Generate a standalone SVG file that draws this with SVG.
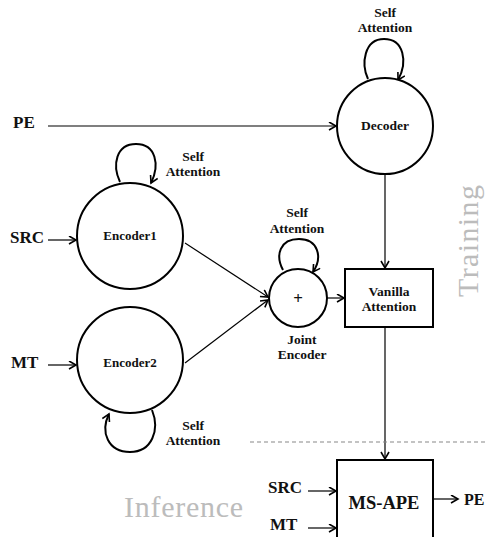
<svg xmlns="http://www.w3.org/2000/svg" width="485" height="537" viewBox="0 0 485 537">
<style>
.node{fill:#fff;stroke:#000;stroke-width:2}
.lbl{font-family:"Liberation Serif",serif;font-weight:bold;fill:#111}
.s13{font-size:13.5px}
.s12{font-size:13px}
.big{font-size:17px}
.edge{fill:none;stroke:#000;stroke-width:1.2}
.loop{fill:none;stroke:#000;stroke-width:2}
.phase{font-family:"Liberation Serif",serif;font-size:30px;fill:#bcbcbc}
</style>
<defs>
<marker id="arr" markerUnits="userSpaceOnUse" markerWidth="10" markerHeight="10" refX="8" refY="4.5" orient="auto">
<path d="M1,0.5 L8,4.5 L1,8.5" fill="none" stroke="#000" stroke-width="1.6"/>
</marker>
</defs>
<rect width="485" height="537" fill="#fff"/>

<g id="connectors">
<line class="edge" x1="48" y1="126" x2="336" y2="126" marker-end="url(#arr)"/>
<line class="edge" x1="48" y1="240" x2="76" y2="240" marker-end="url(#arr)"/>
<line class="edge" x1="48" y1="365" x2="76" y2="365" marker-end="url(#arr)"/>
<line class="edge" x1="185" y1="243" x2="268" y2="297" marker-end="url(#arr)"/>
<line class="edge" x1="185" y1="363" x2="268" y2="300" marker-end="url(#arr)"/>
<line class="edge" x1="327" y1="298" x2="344" y2="298" marker-end="url(#arr)"/>
<line class="edge" x1="385" y1="174" x2="385" y2="268" marker-end="url(#arr)"/>
<line class="edge" x1="385" y1="327" x2="385" y2="459" marker-end="url(#arr)"/>
<line class="edge" x1="308" y1="491" x2="336" y2="491" marker-end="url(#arr)"/>
<line class="edge" x1="308" y1="528" x2="336" y2="528" marker-end="url(#arr)"/>
<line class="edge" x1="433" y1="499" x2="458" y2="499" marker-end="url(#arr)"/>
<path class="loop" d="M368 79 C361 64 364 39 384 39 C404 39 408 62 398 80" marker-end="url(#arr)"/>
<path class="loop" d="M120 182 C112 165 116 144 136 144 C156 144 160 165 151 183" marker-end="url(#arr)"/>
<path class="loop" d="M283 270 C275 255 280 239 299 239 C318 239 323 257 313 272" marker-end="url(#arr)"/>
<path class="loop" d="M152 410 C160 430 152 452 130 452 C108 452 100 432 109 414" marker-end="url(#arr)"/>
<line x1="250" y1="442" x2="485" y2="442" stroke="#888" stroke-width="1.2" stroke-dasharray="4 3"/>
</g>

<g id="decoder">
<circle class="node" cx="385" cy="126" r="48"/>
<text class="lbl s13" x="385" y="130" text-anchor="middle">Decoder</text>
<text class="lbl s13" x="385" y="17" text-anchor="middle">Self</text>
<text class="lbl s13" x="385" y="32" text-anchor="middle">Attention</text>
</g>

<g id="encoder1">
<circle class="node" cx="130" cy="236" r="53"/>
<text class="lbl s12" x="130" y="240" text-anchor="middle">Encoder1</text>
<text class="lbl s13" x="193" y="161" text-anchor="middle">Self</text>
<text class="lbl s13" x="193" y="176" text-anchor="middle">Attention</text>
</g>

<g id="encoder2">
<circle class="node" cx="130" cy="360" r="53"/>
<text class="lbl s12" x="130" y="367" text-anchor="middle">Encoder2</text>
<text class="lbl s13" x="193" y="430" text-anchor="middle">Self</text>
<text class="lbl s13" x="193" y="445" text-anchor="middle">Attention</text>
</g>

<g id="joint-encoder">
<circle class="node" cx="298" cy="298" r="29"/>
<text class="lbl" x="298" y="304" text-anchor="middle" font-size="17">+</text>
<text class="lbl s13" x="297" y="217" text-anchor="middle">Self</text>
<text class="lbl s13" x="297" y="233" text-anchor="middle">Attention</text>
<text class="lbl s13" x="302" y="344" text-anchor="middle">Joint</text>
<text class="lbl s13" x="302" y="359" text-anchor="middle">Encoder</text>
</g>

<g id="vanilla-attention">
<rect class="node" x="345" y="269" width="88" height="58"/>
<text class="lbl s13" x="389" y="296" text-anchor="middle">Vanilla</text>
<text class="lbl s13" x="389" y="311" text-anchor="middle">Attention</text>
</g>

<g id="ms-ape">
<rect class="node" x="337" y="460" width="96" height="90"/>
<text class="lbl" x="384" y="509" text-anchor="middle" font-size="18.5">MS-APE</text>
</g>

<g id="inputs">
<text class="lbl big" x="13" y="128">PE</text>
<text class="lbl big" x="10" y="243">SRC</text>
<text class="lbl big" x="11" y="368">MT</text>
<text class="lbl big" x="268" y="493">SRC</text>
<text class="lbl big" x="270" y="530">MT</text>
<text class="lbl" x="464" y="505" font-size="16">PE</text>
</g>

<g id="phases">
<text class="phase" transform="translate(478,241) rotate(-90)" text-anchor="middle" textLength="112">Training</text>
<text class="phase" x="124" y="517" textLength="119">Inference</text>
</g>
</svg>
